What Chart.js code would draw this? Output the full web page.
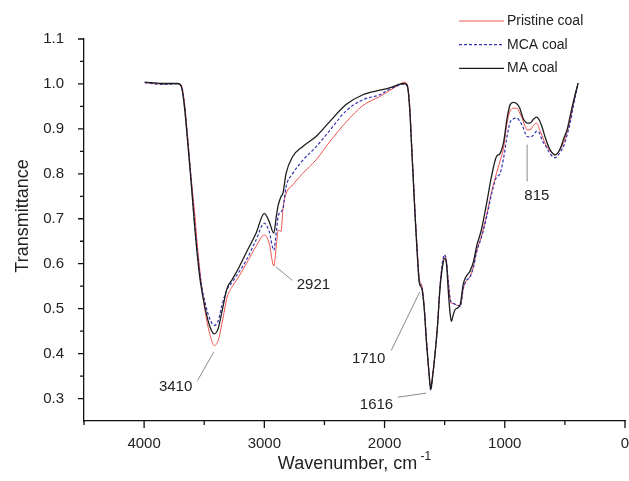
<!DOCTYPE html>
<html>
<head>
<meta charset="utf-8">
<title>FTIR coal</title>
<script src="https://cdn.jsdelivr.net/npm/chart.js@4.4.1/dist/chart.umd.min.js"></script>
<style>
  html, body { margin: 0; padding: 0; background: #fff; }
  .chartBox { width: 629px; height: 481px; }
</style>
</head>
<body>
<div class="chartBox"><canvas id="myChart"></canvas></div>
<script>
// ================= data =================
var wavenumbers = [3995, 3850, 3720, 3690, 3665, 3640, 3610, 3580, 3555, 3530,
  3490, 3450, 3417, 3385, 3350, 3310, 3265, 3220, 3150, 3070,
  3000, 2960, 2921, 2900, 2885, 2860, 2845, 2820, 2765, 2680,
  2570, 2460, 2320, 2180, 2040, 1960, 1880, 1835, 1810, 1790,
  1775, 1760, 1745, 1730, 1710, 1690, 1670, 1650, 1630, 1616,
  1600, 1580, 1560, 1540, 1520, 1500, 1485, 1470, 1455, 1444,
  1430, 1415, 1390, 1370, 1345, 1320, 1290, 1260, 1235, 1195,
  1150, 1110, 1070, 1040, 1010, 980, 955, 930, 900, 875,
  850, 830, 815, 790, 760, 735, 710, 690, 660, 630,
  600, 580, 555, 530, 510, 480, 455, 430, 390];

var pristineCoal = [1.003, 1.000, 1.001, 0.997, 0.960, 0.890, 0.795, 0.715, 0.635, 0.570,
  0.490, 0.440, 0.418, 0.428, 0.470, 0.525, 0.550, 0.568, 0.600, 0.638,
  0.664, 0.646, 0.595, 0.640, 0.675, 0.672, 0.722, 0.755, 0.775, 0.801,
  0.831, 0.870, 0.915, 0.952, 0.972, 0.985, 0.998, 1.004, 0.998, 0.950,
  0.870, 0.790, 0.710, 0.640, 0.565, 0.552, 0.505, 0.425, 0.358, 0.322,
  0.352, 0.400, 0.460, 0.545, 0.595, 0.618, 0.605, 0.560, 0.522, 0.512,
  0.512, 0.510, 0.507, 0.507, 0.545, 0.562, 0.571, 0.595, 0.628, 0.660,
  0.710, 0.760, 0.800, 0.828, 0.858, 0.915, 0.940, 0.946, 0.946, 0.935,
  0.920, 0.905, 0.898, 0.898, 0.908, 0.913, 0.898, 0.885, 0.865, 0.853,
  0.845, 0.842, 0.848, 0.858, 0.870, 0.895, 0.922, 0.955, 1.002];

var mcaCoal = [1.003, 0.999, 1.000, 0.995, 0.955, 0.882, 0.790, 0.690, 0.620, 0.565,
  0.510, 0.475, 0.463, 0.472, 0.510, 0.543, 0.560, 0.578, 0.608, 0.652,
  0.690, 0.672, 0.630, 0.672, 0.705, 0.716, 0.722, 0.770, 0.800, 0.830,
  0.860, 0.895, 0.940, 0.965, 0.976, 0.988, 0.997, 1.000, 0.995, 0.945,
  0.865, 0.785, 0.705, 0.635, 0.560, 0.548, 0.502, 0.425, 0.356, 0.318,
  0.350, 0.400, 0.460, 0.545, 0.600, 0.620, 0.605, 0.560, 0.522, 0.514,
  0.512, 0.510, 0.507, 0.505, 0.545, 0.562, 0.570, 0.593, 0.625, 0.658,
  0.705, 0.755, 0.792, 0.800, 0.835, 0.885, 0.915, 0.922, 0.924, 0.917,
  0.905, 0.890, 0.883, 0.882, 0.886, 0.895, 0.890, 0.875, 0.862, 0.848,
  0.838, 0.836, 0.842, 0.852, 0.862, 0.888, 0.915, 0.950, 1.002];

var maCoal = [1.004, 1.001, 1.001, 0.994, 0.950, 0.878, 0.785, 0.685, 0.613, 0.556,
  0.498, 0.458, 0.444, 0.455, 0.497, 0.545, 0.566, 0.587, 0.625, 0.667,
  0.712, 0.694, 0.668, 0.706, 0.730, 0.750, 0.757, 0.800, 0.838, 0.861,
  0.883, 0.915, 0.954, 0.976, 0.986, 0.991, 0.999, 1.001, 0.995, 0.940,
  0.860, 0.780, 0.700, 0.630, 0.556, 0.545, 0.500, 0.420, 0.355, 0.320,
  0.350, 0.400, 0.460, 0.541, 0.590, 0.612, 0.600, 0.540, 0.490, 0.472,
  0.485, 0.497, 0.502, 0.510, 0.555, 0.572, 0.583, 0.605, 0.638, 0.675,
  0.736, 0.795, 0.838, 0.845, 0.870, 0.925, 0.954, 0.959, 0.956, 0.946,
  0.925, 0.916, 0.913, 0.913, 0.922, 0.926, 0.918, 0.904, 0.878, 0.857,
  0.845, 0.842, 0.848, 0.862, 0.878, 0.900, 0.930, 0.960, 1.002];

var seriesNames = ['Pristine coal', 'MCA coal', 'MA coal'];

var xTickValues = [4000, 3000, 2000, 1000, 0];
var xMinorTicks = [4500, 3500, 2500, 1500, 500];
var yTickValues = [0.3, 0.4, 0.5, 0.6, 0.7, 0.8, 0.9, 1.0, 1.1];
var yMinorTicks = [0.35, 0.45, 0.55, 0.65, 0.75, 0.85, 0.95, 1.05];

// peak labels: leader line from anchor to lineEnd, text centred at textAt (data units)
var peakLabels = ['3410', '2921', '1710', '1616', '815'];
var peakAnchors = [[3422, 0.403], [2903, 0.593], [1708, 0.537], [1653, 0.312], [814, 0.865]];
var peakLineEnds = [[3556, 0.340], [2767, 0.563], [1944, 0.407], [1889, 0.303], [814, 0.783]];
var peakTextAt = [[3738, 0.325], [2592, 0.552], [2133, 0.389], [2067, 0.286], [733, 0.751]];

// ================= chart =================
var FONT = "'Liberation Sans', Arial, sans-serif";

function toPoints(values) {
  return values.map(function (v, i) { return { x: wavenumbers[i], y: v }; });
}

var datasets = [
  { label: seriesNames[0], data: toPoints(pristineCoal), borderColor: '#f05252', borderWidth: 1, order: 2 },
  { label: seriesNames[1], data: toPoints(mcaCoal), borderColor: '#3434b0', borderWidth: 1.2, borderDash: [3, 2], order: 1 },
  { label: seriesNames[2], data: toPoints(maCoal), borderColor: '#1c1c1c', borderWidth: 1.3, order: 0 }
];
datasets.forEach(function (d) {
  d.pointRadius = 0;
  d.fill = false;
  d.cubicInterpolationMode = 'monotone';
});

var decor = {
  id: 'decor',
  afterDraw: function (chart) {
    var ctx = chart.ctx, xs = chart.scales.x, ys = chart.scales.y, area = chart.chartArea;
    ctx.save();

    // tick marks (outside)
    ctx.strokeStyle = '#111';
    ctx.lineWidth = 1.3;
    ctx.beginPath();
    xTickValues.forEach(function (v) { var p = xs.getPixelForValue(v); ctx.moveTo(p, area.bottom); ctx.lineTo(p, area.bottom + 7); });
    xMinorTicks.forEach(function (v) { var p = xs.getPixelForValue(v); ctx.moveTo(p, area.bottom); ctx.lineTo(p, area.bottom + 4); });
    yTickValues.forEach(function (v) { var p = ys.getPixelForValue(v); ctx.moveTo(area.left, p); ctx.lineTo(area.left - 6, p); });
    yMinorTicks.forEach(function (v) { var p = ys.getPixelForValue(v); ctx.moveTo(area.left, p); ctx.lineTo(area.left - 4, p); });
    ctx.stroke();

    // peak labels
    ctx.strokeStyle = '#8a8a8a';
    ctx.lineWidth = 1;
    ctx.fillStyle = '#222';
    ctx.font = '15px ' + FONT;
    ctx.textAlign = 'center';
    ctx.textBaseline = 'middle';
    for (var i = 0; i < peakLabels.length; i++) {
      ctx.beginPath();
      ctx.moveTo(xs.getPixelForValue(peakAnchors[i][0]), ys.getPixelForValue(peakAnchors[i][1]));
      ctx.lineTo(xs.getPixelForValue(peakLineEnds[i][0]), ys.getPixelForValue(peakLineEnds[i][1]));
      ctx.stroke();
      ctx.fillText(peakLabels[i], xs.getPixelForValue(peakTextAt[i][0]), ys.getPixelForValue(peakTextAt[i][1]));
    }

    // legend (top right)
    ctx.font = '14px ' + FONT;
    ctx.textAlign = 'left';
    chart.data.datasets.forEach(function (d, k) {
      var y = 21 + k * 23.7;
      ctx.beginPath();
      ctx.strokeStyle = d.borderColor;
      ctx.lineWidth = d.borderWidth;
      ctx.setLineDash(d.borderDash || []);
      ctx.moveTo(459, y);
      ctx.lineTo(504, y);
      ctx.stroke();
      ctx.setLineDash([]);
      ctx.fillStyle = '#222';
      ctx.fillText(d.label, 507, y);
    });

    // axis titles
    ctx.fillStyle = '#222';
    var main = 'Wavenumber, cm';
    ctx.font = '18px ' + FONT;
    var w1 = ctx.measureText(main).width;
    ctx.font = '12px ' + FONT;
    var sup = ' -1';
    var w2 = ctx.measureText(sup).width;
    var cx = (area.left + area.right) / 2 - (w1 + w2) / 2;
    ctx.textAlign = 'left';
    ctx.font = '18px ' + FONT;
    ctx.fillText(main, cx, 464);
    ctx.font = '12px ' + FONT;
    ctx.fillText(sup, cx + w1, 457);

    ctx.translate(23, 216);
    ctx.rotate(-Math.PI / 2);
    ctx.textAlign = 'center';
    ctx.font = '18px ' + FONT;
    ctx.fillText('Transmittance', 0, 0);
    ctx.restore();
  }
};

var ctx1 = document.getElementById('myChart').getContext('2d');
new Chart(ctx1, {
  type: 'line',
  data: { datasets: datasets },
  plugins: [decor],
  options: {
    responsive: true,
    maintainAspectRatio: false,
    animation: false,
    devicePixelRatio: 1,
    layout: { padding: { top: 39, right: 4, left: 0, bottom: 0 } },
    plugins: { legend: { display: false }, tooltip: { enabled: false } },
    scales: {
      x: {
        type: 'linear',
        reverse: true,
        min: 0,
        max: 4500,
        afterBuildTicks: function (s) { s.ticks = xTickValues.map(function (v) { return { value: v }; }); },
        afterFit: function (s) { s.height = 60; s.paddingLeft = 0; s.paddingRight = 0; },
        grid: { display: false },
        border: { display: true, color: '#111', width: 1.3 },
        ticks: {
          color: '#222', font: { size: 15, family: FONT }, padding: 6, maxRotation: 0, autoSkip: false,
          callback: function (v) { return String(v); }
        }
      },
      y: {
        min: 0.25,
        max: 1.1,
        afterBuildTicks: function (s) { s.ticks = yTickValues.map(function (v) { return { value: v }; }); },
        afterFit: function (s) { s.width = 84; s.paddingTop = 0; s.paddingBottom = 0; },
        grid: { display: false },
        border: { display: true, color: '#111', width: 1.3 },
        ticks: {
          color: '#222', font: { size: 15, family: FONT }, padding: 12, autoSkip: false,
          callback: function (v) { return v.toFixed(1); }
        }
      }
    }
  }
});
</script>
</body>
</html>
